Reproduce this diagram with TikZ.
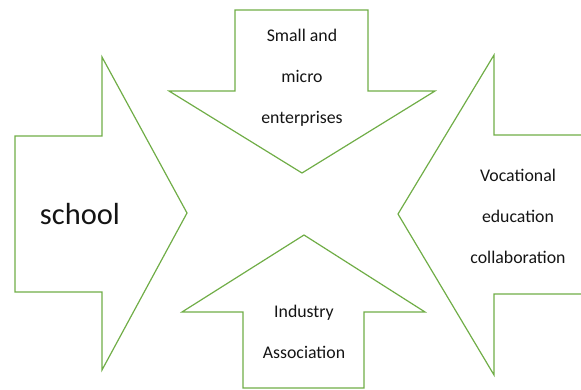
\documentclass[tikz,border=0pt]{standalone}
\usepackage{fontspec}
\setmainfont{Carlito}
\usepackage{tikz}
\usetikzlibrary{calc,positioning}

\definecolor{arrowgreen}{RGB}{112,173,71}
\definecolor{labelgray}{RGB}{20,20,20}

\begin{document}
\begin{tikzpicture}[x=1pt,y=-1pt]
      \tikzstyle{block}=[draw=arrowgreen,line width=1.2pt,line join=miter]
      \tikzstyle{lbl}=[text=labelgray,align=center,inner sep=0pt,font=\fontsize{17.8}{41}\selectfont]
      \tikzstyle{big}=[text=labelgray,inner sep=0pt,font=\fontsize{30.5}{36}\selectfont]
      \clip (0,0) rectangle (581,389);

      % left arrow
      \draw[block] (15,136) -- (102,136) -- (102,57) -- (187,213) -- (102,370) -- (102,292) -- (15,292) -- cycle;
      % top arrow
      \draw[block] (235,10) -- (368,10) -- (368,91) -- (435,91) -- (302,173) -- (169,91) -- (235,91) -- cycle;
      % bottom arrow
      \draw[block] (243,388) -- (243,312) -- (182,312) -- (304,235) -- (425,312) -- (364,312) -- (364,388) -- cycle;
      % right arrow
      \draw[block] (590,135) -- (494,135) -- (494,55) -- (398,214) -- (494,375) -- (494,294) -- (590,294);

      \node[big] (school) at (80,214) {school};
      \node[lbl] (sme) at (302,78) {Small and\\micro\\enterprises};
      \node[lbl] (vet) at (518,216) {Vocational\\education\\collaboration};
      \node[lbl] (assoc) at (304,332) {Industry\\Association};
\end{tikzpicture}
\end{document}
